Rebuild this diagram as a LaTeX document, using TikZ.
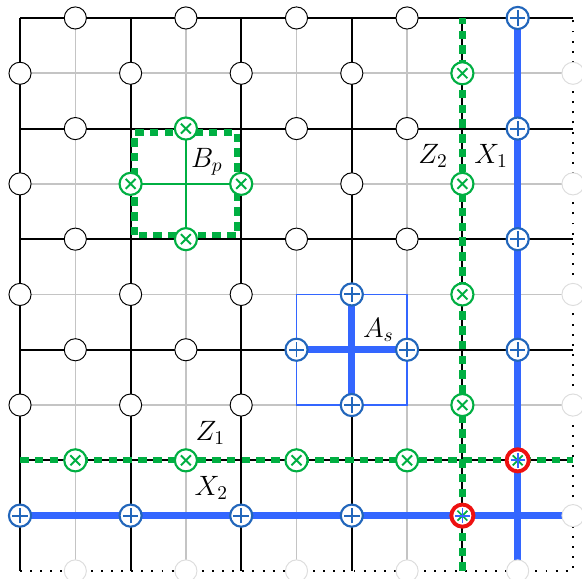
\documentclass[tikz,border=0pt]{standalone}
\usetikzlibrary{calc}
\definecolor{zgreen}{HTML}{00AF42}
\definecolor{xblue}{HTML}{3366FF}
\definecolor{xring}{HTML}{2266BB}
\definecolor{bothred}{HTML}{EE1111}
\definecolor{dualgray}{HTML}{C4C4C4}
\definecolor{ghostgray}{HTML}{DDDDDD}

\begin{document}
\begin{tikzpicture}[font=\fontsize{14}{17}\selectfont,
  primal/.style={line width=1pt,draw=black},
  dualline/.style={line width=.8pt,draw=dualgray},
  xline/.style={line width=3.4pt,draw=xblue},
  zline/.style={line width=3.2pt,draw=zgreen,dash pattern=on 4.4pt off 3.2pt},
  qubit/.style={circle,draw=black,fill=white,minimum size=4mm,inner sep=0pt,line width=.5pt},
  ghost/.style={qubit,draw=ghostgray},
  zq/.style={qubit,draw=zgreen,line width=1.1pt,
    path picture={\draw[zgreen,line width=1pt]
      ([shift={(-.09,-.09)}]path picture bounding box.center) -- ([shift={(.09,.09)}]path picture bounding box.center)
      ([shift={(-.09,.09)}]path picture bounding box.center) -- ([shift={(.09,-.09)}]path picture bounding box.center);}},
  xq/.style={qubit,draw=xring,line width=1.1pt,
    path picture={\draw[xring,line width=1pt]
      ([shift={(-.14,0)}]path picture bounding box.center) -- ([shift={(.14,0)}]path picture bounding box.center)
      ([shift={(0,-.14)}]path picture bounding box.center) -- ([shift={(0,.14)}]path picture bounding box.center);}},
  yq/.style={qubit,draw=bothred,line width=2pt,
    path picture={\draw[zgreen,line width=.9pt]
      ([shift={(-.09,-.09)}]path picture bounding box.center) -- ([shift={(.09,.09)}]path picture bounding box.center)
      ([shift={(-.09,.09)}]path picture bounding box.center) -- ([shift={(.09,-.09)}]path picture bounding box.center);
      \draw[xblue,line width=.9pt]
      ([shift={(-.13,0)}]path picture bounding box.center) -- ([shift={(.13,0)}]path picture bounding box.center)
      ([shift={(0,-.13)}]path picture bounding box.center) -- ([shift={(0,.13)}]path picture bounding box.center);}}]
\useasboundingbox (-0.362,-0.145) rectangle (10.163,10.325);

% dual lattice
\foreach \k in {1,3,...,9} {
  \draw[dualline] (\k,0) -- (\k,10);
  \draw[dualline] (0,\k) -- (10,\k);
}
% primal lattice, periodic edges dotted
\foreach \k in {2,4,...,10} \draw[primal] (0,\k) -- (10,\k);
\foreach \k in {0,2,...,8} \draw[primal] (\k,0) -- (\k,10);
\draw[primal,dash pattern=on 1pt off 4.2pt] (0,0) -- (10,0) -- (10,10);

% star operator
\coordinate (star) at (6,4);
\draw[xblue,line width=.8pt] ($(star)+(-1,-1)$) rectangle ($(star)+(1,1)$);
\draw[xline] ($(star)+(-1,0)$) -- ($(star)+(1,0)$);
\draw[xline] ($(star)+(0,-1)$) -- ($(star)+(0,1)$);

% plaquette operator
\coordinate (plaq) at (3,7);
\draw[zgreen,line width=.8pt] ($(plaq)+(-1,0)$) -- ($(plaq)+(1,0)$);
\draw[zgreen,line width=.8pt] ($(plaq)+(0,-1)$) -- ($(plaq)+(0,1)$);
\draw[zline] ($(plaq)+(-.93,-.93)$) rectangle ($(plaq)+(.93,.93)$);

% logical strings
\draw[xline] (9,0) -- (9,10);
\draw[xline] (0,1) -- (10,1);
\draw[zline] (0,2) -- (10,2);
\draw[zline] (8,0) -- (8,10);

% qubits
\foreach \x/\y in {1/10,3/10,5/10,7/10,1/8,5/8,7/8,1/6,5/6,7/6,1/4,3/4,
  0/9,2/9,4/9,6/9,0/7,6/7,0/5,2/5,4/5,0/3,2/3,4/3}
  \node[qubit] (q\x-\y) at (\x,\y) {};
\foreach \x/\y in {1/0,3/0,5/0,7/0,9/0,10/1,10/3,10/5,10/7,10/9}
  \node[ghost] (g\x-\y) at (\x,\y) {};
\foreach \x/\y in {9/10,9/8,9/6,9/4,0/1,2/1,4/1,6/1,6/5,6/3,5/4,7/4}
  \node[xq] (x\x-\y) at (\x,\y) {};
\foreach \x/\y in {1/2,3/2,5/2,7/2,8/9,8/7,8/5,8/3,3/8,3/6,2/7,4/7}
  \node[zq] (z\x-\y) at (\x,\y) {};
\foreach \x/\y in {9/2,8/1}
  \node[yq] (y\x-\y) at (\x,\y) {};

% labels
\node (Bp) at (3.38,7.40) {$B_p$};
\node (As) at (6.48,4.36) {$A_s$};
\node (Z2) at (7.47,7.50) {$Z_2$};
\node (X1) at (8.52,7.50) {$X_1$};
\node (Z1) at (3.44,2.50) {$Z_1$};
\node (X2) at (3.46,1.50) {$X_2$};
\end{tikzpicture}
\end{document}
